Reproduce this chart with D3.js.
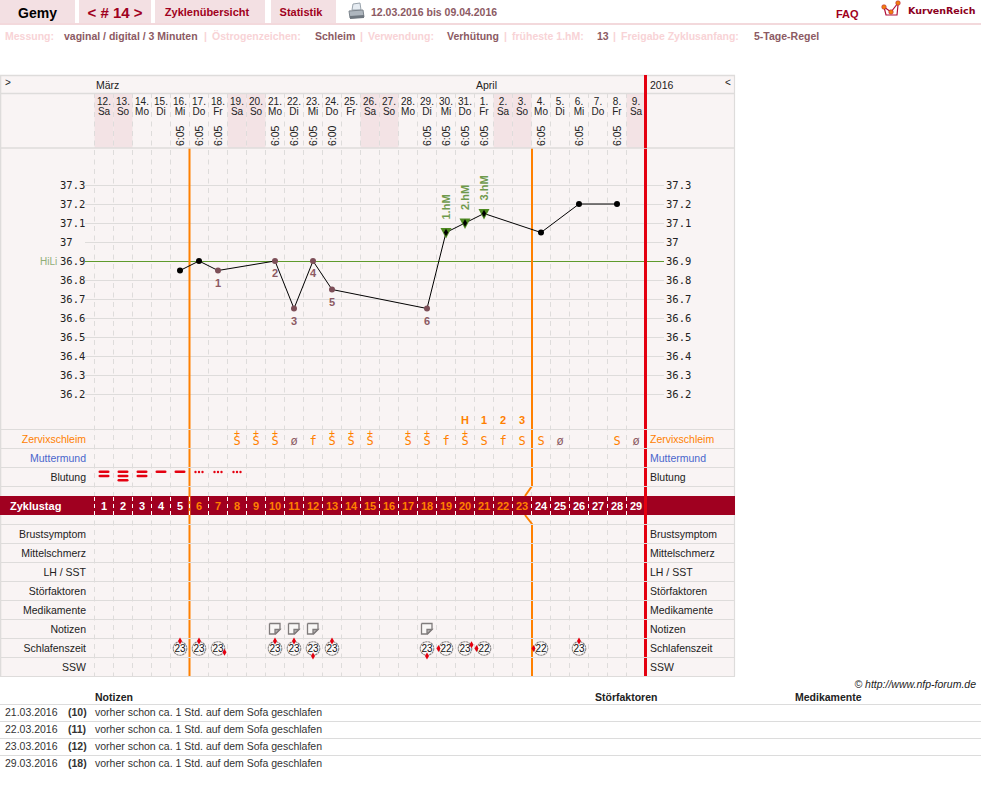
<!DOCTYPE html>
<html lang="de">
<head>
<meta charset="utf-8">
<title>Zyklusblatt</title>
<script src="https://cdn.jsdelivr.net/npm/d3@7/dist/d3.min.js"></script>
<style>
  html, body { margin: 0; padding: 0; background: #fff; }
  svg { display: block; font-family: "Liberation Sans", Arial, sans-serif; }
  .mono { font-family: "DejaVu Sans Mono", monospace; }
</style>
</head>
<body>
<svg id="chart" width="981" height="796"></svg>
<script>
// Zyklusdaten
const cycleDays = d3.range(1, 30);
const dateNumbers = ["12.","13.","14.","15.","16.","17.","18.","19.","20.","21.","22.","23.","24.","25.","26.","27.","28.","29.","30.","31.","1.","2.","3.","4.","5.","6.","7.","8.","9."];
const weekdays = ["Sa","So","Mo","Di","Mi","Do","Fr","Sa","So","Mo","Di","Mi","Do","Fr","Sa","So","Mo","Di","Mi","Do","Fr","Sa","So","Mo","Di","Mi","Do","Fr","Sa"];

const tempDays   = [5, 6, 7, 10, 11, 12, 13, 18, 19, 20, 21, 24, 26, 28];
const tempValues = [36.85, 36.9, 36.85, 36.9, 36.65, 36.9, 36.75, 36.65, 37.05, 37.1, 37.15, 37.05, 37.2, 37.2];
const tempTimes  = ["6:05","6:05","6:05","6:05","6:05","6:05","6:00","6:05","6:05","6:05","6:05","6:05","6:05","6:05"];
const lowCountDays = [7, 10, 11, 12, 13, 18];
const riseDays = [19, 20, 21];
const tempTicks = [37.3, 37.2, 37.1, 37, 36.9, 36.8, 36.7, 36.6, 36.5, 36.4, 36.3, 36.2];
const coverLine = 36.9;

const mucusDays    = [8, 9, 10, 11, 12, 13, 14, 15, 17, 18, 19, 20, 21, 22, 23, 24, 25, 28, 29];
const mucusSymbols = ["S+","S+","S+","ø","f","S+","S+","S+","S+","S+","f","S+","S","f","S","S","ø","S","ø"];
const peakDays   = [20, 21, 22, 23];
const peakLabels = ["H","1","2","3"];

const bleedBarDays   = [1, 2, 3, 4, 5];
const bleedBarCounts = [2, 3, 2, 1, 1];
const spottingDays   = [6, 7, 8];

const noteDays   = [10, 11, 12, 18];
const sleepDays  = [5, 6, 7, 10, 11, 12, 13, 18, 19, 20, 21, 24, 26];
const sleepHours = [23, 23, 23, 23, 23, 23, 23, 23, 22, 23, 22, 22, 23];
const sleepMins  = [0, 0, 20, 0, 0, 30, 0, 30, 45, 10, 45, 45, 0];

const upperRows = ["Zervixschleim", "Muttermund", "Blutung"];
const upperRowColors = ["#ff8000", "#4a66cc", "#222"];
const lowerRows = ["Brustsymptom", "Mittelschmerz", "LH / SST", "Störfaktoren", "Medikamente", "Notizen", "Schlafenszeit", "SSW"];

const noteDates = ["21.03.2016", "22.03.2016", "23.03.2016", "29.03.2016"];
const noteCycleDays = ["(10)", "(11)", "(12)", "(18)"];
const noteTexts = ["vorher schon ca. 1 Std. auf dem Sofa geschlafen", "vorher schon ca. 1 Std. auf dem Sofa geschlafen", "vorher schon ca. 1 Std. auf dem Sofa geschlafen", "vorher schon ca. 1 Std. auf dem Sofa geschlafen"];

// Geometrie und Farben
const gridLeft = 94.5, gridRight = 645.5, panelRight = 735;
const top0 = 75, monthBottom = 93, headBottom = 148;
const upperTop = 429.5, rowH = 19, lowerTop = 524.5, chartBottom = 676.5;
const bandTop = 496, bandBottom = 515;
const bg = "#f9f4f4", gridCol = "#dedcdb", weekendCol = "#f3e3e5", orange = "#ff8000", red = "#e40010",
      crimson = "#a00020", tabCol = "#f3e0e3", wine = "#8c5a63", pale = "#f8d3d6", green = "#5f9a2c", lowCol = "#7d4f58";

const x = d3.scaleBand().domain(cycleDays).range([gridLeft, gridRight]);
const cx = d => x(d) + x.bandwidth() / 2;
const y = d3.scaleLinear().domain([36.2, 37.3]).range([394, 185]);
const upperY = d3.scaleBand().domain(upperRows).range([upperTop, upperTop + rowH * upperRows.length]);
const lowerY = d3.scaleBand().domain(lowerRows).range([lowerTop, chartBottom]);
const rowMid = (s, r) => s(r) + s.bandwidth() / 2;

const svg = d3.select("#chart");

function label(g, text, px, py, o = {}) {
  return g.append("text").attr("x", px).attr("y", py).text(text)
    .attr("font-size", o.size || 11).attr("fill", o.fill || "#222")
    .attr("font-weight", o.weight || null).attr("font-style", o.style || null)
    .attr("text-anchor", o.anchor || "start").attr("class", o.cls || null);
}

// Kopfzeile mit Reitern
const head = svg.append("g");
const tabs = [[0, 75, "Gemy", 37.5, 14, "#000"], [79, 72, "< # 14 >", 115, 15, crimson], [155, 110, "Zyklenübersicht", 207, 11, crimson], [271, 65, "Statistik", 301, 11, crimson]];
tabs.forEach(t => {
  head.append("rect").attr("x", t[0]).attr("y", 0).attr("width", t[1]).attr("height", 23).attr("fill", tabCol);
  label(head, t[2], t[3], 17, { size: t[4], fill: t[5], weight: "bold", anchor: "middle" }).attr("y", t[4] > 12 ? 18 : 16);
});
head.append("rect").attr("x", 0).attr("y", 23).attr("width", 981).attr("height", 2).attr("fill", "#f3d9dc");

// Druckersymbol
const printer = head.append("g").attr("transform", "translate(349,3)");
printer.append("path").attr("d", "M4 1 L11 0 L12 7 L3 7 Z").attr("fill", "#e6ecf2").attr("stroke", "#9aa4ad");
printer.append("path").attr("d", "M0 8 L14 7 L15 14 L1 15 Z").attr("fill", "#aeb6be").attr("stroke", "#7d858d");
printer.append("path").attr("d", "M1 13 L15 12 L15 15 L1 16 Z").attr("fill", "#6f777f");

label(head, "12.03.2016 bis 09.04.2016", 371, 16, { size: 10.5, fill: wine, weight: "bold" });
label(head, "FAQ", 836, 18, { size: 11, fill: crimson, weight: "bold" });

// Logo
const logo = head.append("g").attr("transform", "translate(881,0)");
logo.append("path").attr("d", "M3 7 L5 15 L16 15 L17 5").attr("fill", "none").attr("stroke", "#b0103a").attr("stroke-width", 1.2);
logo.append("path").attr("d", "M3 7 L10 12 L17 3").attr("fill", "none").attr("stroke", "#b0103a").attr("stroke-width", 1.2);
logo.selectAll("circle").data([[3, 7], [10, 12], [17, 3]]).join("circle")
  .attr("cx", d => d[0]).attr("cy", d => d[1]).attr("r", 2.3).attr("fill", "#f08010").attr("stroke", "#b0103a").attr("stroke-width", 0.5);
label(head, "KurvenReich", 908, 14, { size: 9.5, fill: "#8c0020", weight: "bold" }).style("font-family", "'DejaVu Sans', sans-serif");

// Einstellungen
const settings = [
  ["Messung:", 5, pale], ["vaginal / digital / 3 Minuten", 64, wine], ["|", 204, pale],
  ["Östrogenzeichen:", 212, pale], ["Schleim", 315, wine], ["|", 360, pale],
  ["Verwendung:", 368, pale], ["Verhütung", 447, wine], ["|", 504, pale],
  ["früheste 1.hM:", 512, pale], ["13", 597, wine], ["|", 613, pale],
  ["Freigabe Zyklusanfang:", 621, pale], ["5-Tage-Regel", 754, wine]
];
settings.forEach(s => label(head, s[0], s[1], 40, { size: 10.5, fill: s[2], weight: "bold" }));

// Flächen
const base = svg.append("g");
base.append("rect").attr("x", 0).attr("y", top0).attr("width", panelRight).attr("height", chartBottom - top0).attr("fill", bg);
base.selectAll("rect.we").data(cycleDays.filter((d, i) => weekdays[i] === "Sa" || weekdays[i] === "So")).join("rect")
  .attr("class", "we").attr("x", d => x(d)).attr("y", monthBottom).attr("width", x.bandwidth()).attr("height", headBottom - monthBottom).attr("fill", weekendCol);

// Gestrichelte Spaltenlinien
base.selectAll("line.col").data(cycleDays).join("line").attr("class", "col")
  .attr("x1", d => x(d)).attr("x2", d => x(d)).attr("y1", monthBottom).attr("y2", chartBottom)
  .attr("stroke", gridCol).attr("stroke-dasharray", "5 4.5");

// Temperaturlinien
base.selectAll("line.temp").data(tempTicks).join("line").attr("class", "temp")
  .attr("x1", 85).attr("x2", 664).attr("y1", d => y(d) + 0.5).attr("y2", d => y(d) + 0.5).attr("stroke", gridCol);
base.append("line").attr("x1", 85).attr("x2", 664).attr("y1", y(coverLine) + 0.5).attr("y2", y(coverLine) + 0.5).attr("stroke", green);
label(base, "HiLi", 40, 265, { size: 10, fill: "#8fae76" });

// Senkrechte Begrenzungen von Periode und Hochlage
const verticals = svg.append("g").attr("fill", "none");
const startX = x(6), endX = x(24);
verticals.append("line").attr("x1", startX).attr("x2", startX).attr("y1", headBottom).attr("y2", chartBottom).attr("stroke", orange).attr("stroke-width", 2);
verticals.append("path").attr("stroke", orange).attr("stroke-width", 2)
  .attr("d", d3.line()([[endX + 0.5, headBottom], [endX + 0.5, 486], [endX - 6.5, 496]]));
verticals.append("path").attr("stroke", orange).attr("stroke-width", 2)
  .attr("d", d3.line()([[endX - 6.5, 515], [endX + 0.5, 524], [endX + 0.5, chartBottom]]));
verticals.append("rect").attr("x", gridRight - 1.5).attr("y", top0).attr("width", 3).attr("height", chartBottom - top0).attr("fill", red).attr("stroke", "none");

// Zeilen, Rahmen und Raster
const rules = svg.append("g").attr("stroke", gridCol).attr("fill", "none");
const ruleYs = [top0 + 0.5, monthBottom + 0.5, headBottom, upperTop, upperTop + rowH, upperTop + 2 * rowH, upperTop + 3 * rowH].concat(d3.range(9).map(i => lowerTop + i * rowH));
ruleYs.forEach((ry, i) => rules.append("line").attr("x1", 0).attr("x2", panelRight).attr("y1", ry).attr("y2", ry).attr("stroke-width", i < 3 ? 1.4 : 1));
rules.append("line").attr("x1", 0.5).attr("x2", 0.5).attr("y1", top0).attr("y2", chartBottom).attr("stroke-width", 1.6);
rules.append("line").attr("x1", panelRight - 0.5).attr("x2", panelRight - 0.5).attr("y1", top0).attr("y2", chartBottom).attr("stroke-width", 1.2);
svg.append("rect").attr("x", gridRight - 1.5).attr("y", top0).attr("width", 3).attr("height", headBottom - top0).attr("fill", red);

// Zyklustag-Band
const band = svg.append("g");
band.append("rect").attr("x", 0).attr("y", bandTop).attr("width", panelRight).attr("height", bandBottom - bandTop).attr("fill", crimson);
label(band, "Zyklustag", 10, 510, { size: 11, fill: "#fff", weight: "bold" });
band.append("line").attr("x1", startX).attr("x2", startX).attr("y1", bandTop).attr("y2", bandBottom).attr("stroke", orange).attr("stroke-width", 2);
band.append("rect").attr("x", gridRight - 1.5).attr("y", bandTop).attr("width", 3).attr("height", bandBottom - bandTop).attr("fill", red);
band.selectAll("line.tick").data(cycleDays).join("line").attr("class", "tick")
  .attr("x1", d => x(d)).attr("x2", d => x(d)).attr("y1", bandTop + 1).attr("y2", bandBottom)
  .attr("stroke", "#fff").attr("stroke-dasharray", "4 3");
band.selectAll("text.day").data(cycleDays).join("text").attr("class", "day")
  .attr("x", cx).attr("y", 510).attr("text-anchor", "middle").attr("font-size", 11).attr("font-weight", "bold")
  .attr("fill", d => (d >= 6 && d <= 23) ? orange : "#fff").text(d => d);

// Monate und Tage
const dates = svg.append("g");
label(dates, ">", 5, 86, { size: 10 });
label(dates, "März", 96, 89, { size: 10.5 });
label(dates, "April", 476, 89, { size: 10.5 });
label(dates, "2016", 650, 89, { size: 10.5 });
label(dates, "<", 725, 86, { size: 10 });
dates.selectAll("text.num").data(cycleDays).join("text").attr("class", "num")
  .attr("x", cx).attr("y", 105).attr("text-anchor", "middle").attr("font-size", 10).attr("fill", "#222")
  .text((d, i) => dateNumbers[i]);
dates.selectAll("text.wd").data(cycleDays).join("text").attr("class", "wd")
  .attr("x", cx).attr("y", 115).attr("text-anchor", "middle").attr("font-size", 10).attr("fill", "#222")
  .text((d, i) => weekdays[i]);
dates.selectAll("text.time").data(tempDays).join("text").attr("class", "time")
  .attr("transform", d => `translate(${cx(d) + 3.5},146) rotate(-90)`)
  .attr("font-size", 10.5).attr("fill", "#222").text((d, i) => tempTimes[i]);

// Temperaturskalen
function tempAxis(px) {
  const g = svg.append("g").attr("transform", `translate(${px},0)`)
    .call(d3.axisRight(y).tickValues(tempTicks).tickSize(0).tickPadding(0).tickFormat(d => String(+d.toFixed(1))));
  g.select(".domain").remove();
  g.selectAll("text").attr("class", "mono").attr("font-size", 10.5).attr("fill", "#222")
    .style("font-family", "'DejaVu Sans Mono', monospace").attr("dy", "0.36em");
}
tempAxis(60);
tempAxis(666);

// Zeilenbeschriftungen
const rowLabels = svg.append("g");
[[upperRows, upperY], [lowerRows, lowerY]].forEach(([rows, s]) => {
  rows.forEach((r, i) => {
    const col = s === upperY ? upperRowColors[i] : "#222";
    label(rowLabels, r, 86, rowMid(s, r) + 4, { size: 10.5, fill: col, anchor: "end" });
    label(rowLabels, r, 650, rowMid(s, r) + 4, { size: 10.5, fill: col });
  });
});

// Temperaturkurve
const points = tempDays.map((d, i) => ({ day: d, v: tempValues[i] }));
const curve = svg.append("g");
curve.append("path").datum(points).attr("fill", "none").attr("stroke", "#000")
  .attr("d", d3.line().x(p => cx(p.day)).y(p => y(p.v)));

// Höhermessungen
const rise = points.filter(p => riseDays.includes(p.day));
curve.selectAll("path.tri").data(rise).join("path").attr("class", "tri").attr("fill", "#4f8a22")
  .attr("d", p => d3.line()([[cx(p.day) - 5.5, y(p.v) - 4.5], [cx(p.day) + 5.5, y(p.v) - 4.5], [cx(p.day), y(p.v) + 6]]));
curve.selectAll("text.hm").data(rise).join("text").attr("class", "hm")
  .attr("transform", p => `translate(${cx(p.day) + 4},${y(p.v) - 13}) rotate(-90)`)
  .attr("font-size", 11).attr("font-weight", "bold").attr("fill", "#6f9a4c")
  .text((p, i) => `${i + 1}.hM`);

curve.selectAll("path.mark").data(rise).join("path").attr("class", "mark").attr("fill", "#000")
  .attr("transform", p => `translate(${cx(p.day)},${y(p.v)})`)
  .attr("d", d3.symbol(d3.symbolDiamond, 16));

curve.selectAll("circle").data(points.filter(p => !riseDays.includes(p.day))).join("circle")
  .attr("cx", p => cx(p.day)).attr("cy", p => y(p.v)).attr("r", 3)
  .attr("fill", p => lowCountDays.includes(p.day) ? lowCol : "#000");

curve.selectAll("text.low").data(points.filter(p => lowCountDays.includes(p.day))).join("text").attr("class", "low")
  .attr("x", p => cx(p.day)).attr("y", p => y(p.v) + 16).attr("text-anchor", "middle")
  .attr("font-size", 11).attr("font-weight", "bold").attr("fill", "#8c5a63").text((p, i) => i + 1);

// Schleimsymbole
const mucusY = rowMid(upperY, "Zervixschleim");
const mucus = svg.append("g").attr("class", "mono").style("font-family", "'DejaVu Sans Mono', monospace");
mucus.selectAll("text.sym").data(mucusDays).join("text").attr("class", "sym")
  .attr("x", cx).attr("y", mucusY + 6).attr("text-anchor", "middle").attr("font-size", 12)
  .attr("fill", (d, i) => mucusSymbols[i] === "ø" ? "#8c5a63" : orange)
  .text((d, i) => mucusSymbols[i][0]);
mucus.selectAll("text.plus").data(mucusDays.filter((d, i) => mucusSymbols[i].endsWith("+"))).join("text").attr("class", "plus")
  .attr("x", cx).attr("y", mucusY - 2).attr("text-anchor", "middle").attr("font-size", 10).attr("fill", orange).text("+");
mucus.selectAll("text.peak").data(peakDays).join("text").attr("class", "peak")
  .attr("x", cx).attr("y", 424).attr("text-anchor", "middle").attr("font-size", 11).attr("font-weight", "bold")
  .style("font-family", "'Liberation Sans', sans-serif").attr("fill", orange).text((d, i) => peakLabels[i]);

// Blutung
const bleedY = rowMid(upperY, "Blutung");
const bleed = svg.append("g").attr("fill", red);
bleedBarDays.forEach((d, i) => {
  d3.range(bleedBarCounts[i]).forEach(k => {
    bleed.append("rect").attr("x", cx(d) - 5.5).attr("y", bleedY - 6.5 + k * 4.2).attr("width", 11).attr("height", 2.6).attr("rx", 1.3);
  });
});
spottingDays.forEach(d => {
  [-3.5, 0, 3.5].forEach(o => bleed.append("circle").attr("cx", cx(d) + o).attr("cy", bleedY - 5).attr("r", 1.2));
});

// Notizsymbole
const noteY = rowMid(lowerY, "Notizen");
const notes = svg.append("g").attr("stroke", "#807c7c").attr("fill", "#f9f7f6").attr("stroke-width", 1.3);
noteDays.forEach(d => {
  const l = cx(d) - 5.5, t = noteY - 5.5;
  notes.append("path").attr("d", d3.line()([[l, t], [l + 10.5, t], [l + 10.5, t + 6], [l + 6, t + 10.5], [l, t + 10.5], [l, t]]));
  notes.append("path").attr("fill", "#bcb9b9").attr("d", d3.line()([[l + 5.5, t + 10.5], [l + 5.5, t + 6], [l + 10.5, t + 6], [l + 5.5, t + 10.5]]));
});

// Schlafenszeit als kleine Uhr
const sleepY = rowMid(lowerY, "Schlafenszeit") + 0.5;
const clock = svg.append("g");
clock.selectAll("circle").data(sleepDays).join("circle")
  .attr("cx", cx).attr("cy", sleepY).attr("r", 6.8).attr("fill", "#faf8f8")
  .attr("stroke", "#8a8686").attr("stroke-width", 1.1).attr("stroke-dasharray", "2.4 0.6");
clock.selectAll("text").data(sleepDays).join("text")
  .attr("x", cx).attr("y", sleepY + 3.6).attr("text-anchor", "middle").attr("font-size", 10).attr("fill", "#111")
  .text((d, i) => sleepHours[i]);
const minuteAngle = d3.scaleLinear().domain([0, 60]).range([0, 2 * Math.PI]);
clock.selectAll("path").data(sleepDays).join("path").attr("fill", red)
  .attr("transform", (d, i) => {
    const a = minuteAngle(sleepMins[i]);
    return `translate(${cx(d) + 7.5 * Math.sin(a)},${sleepY - 7.5 * Math.cos(a)})`;
  })
  .attr("d", d3.symbol(d3.symbolDiamond, 14));

// Notizentabelle
const table = svg.append("g");
label(table, "© http://www.nfp-forum.de", 976, 688, { size: 10.5, style: "italic", anchor: "end" });
label(table, "Notizen", 95, 701, { size: 10.5, weight: "bold" });
label(table, "Störfaktoren", 595, 701, { size: 10.5, weight: "bold" });
label(table, "Medikamente", 795, 701, { size: 10.5, weight: "bold" });
const tableRowY = d3.scaleBand().domain(noteDates.map((d, i) => i)).range([704.5, 772.5]);
noteDates.forEach((d, i) => {
  const ty = tableRowY(i);
  table.append("line").attr("x1", 0).attr("x2", 981).attr("y1", ty).attr("y2", ty).attr("stroke", "#dcdcdc");
  label(table, d, 5, ty + 11.5, { size: 10.5, fill: "#333" });
  label(table, noteCycleDays[i], 68, ty + 11.5, { size: 10.5, weight: "bold", fill: "#333" });
  label(table, noteTexts[i], 95, ty + 11.5, { size: 10.5, fill: "#333" });
});
</script>
</body>
</html>
